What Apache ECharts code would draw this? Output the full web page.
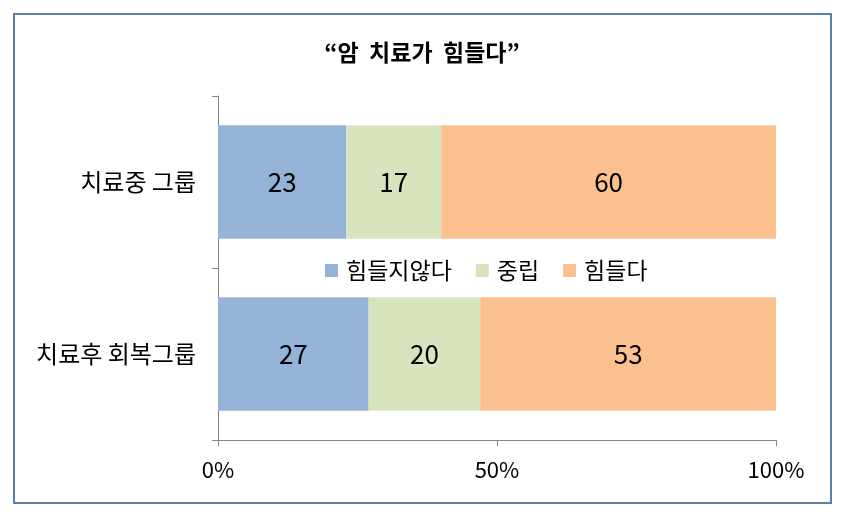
<!DOCTYPE html>
<html><head><meta charset="utf-8">
<script src="https://cdn.jsdelivr.net/npm/echarts@6/dist/echarts.min.js"></script>
<style>html,body{margin:0;padding:0;background:#fff}#c{width:844px;height:517px}</style>
</head><body><div id="c"></div>
<script>
const categories = ['치료중 그룹', '치료후 회복그룹'];
const seriesNames = ['힘들지않다', '중립', '힘들다'];
const notHard = [23, 27];
const neutral = [17, 20];
const hard = [60, 53];
const xTicks = [0, 50, 100];
const colors = ['#95b3d7', '#d7e4bd', '#fac090'];
const font = '"Noto Sans CJK KR", "Noto Sans", sans-serif';
const values = [notHard, neutral, hard];

const chart = echarts.init(document.getElementById('c'));
chart.setOption({
  animation: false,
  textStyle: { fontFamily: font },
  title: {
    text: '“암  치료가  힘들다”', left: 'center', top: 36,
    textStyle: { fontSize: 23, fontWeight: 'bold', color: '#000', fontFamily: font }
  },
  legend: {
    left: 320, top: 254, itemWidth: 13, itemHeight: 13, itemGap: 24,
    icon: 'rect',
    textStyle: { fontSize: 23, color: '#000', fontFamily: font, padding: [0, 0, 0, 3] },
    data: seriesNames
  },
  graphic: [{
    type: 'rect', shape: { x: 14, y: 14, width: 817, height: 489 },
    style: { fill: 'none', stroke: '#5a7fab', lineWidth: 2 }, silent: true, z: -1
  }],
  grid: { left: 218, right: 68, top: 96, bottom: 77 },
  xAxis: {
    type: 'value', min: 0, max: 100, interval: 50,
    axisLine: { show: true, lineStyle: { color: '#868686' } },
    axisTick: { show: true, length: 6, lineStyle: { color: '#868686' } },
    splitLine: { show: false },
    axisLabel: { formatter: v => xTicks.includes(v) ? v + '%' : '', fontSize: 22, color: '#000', margin: 19, fontFamily: font }
  },
  yAxis: {
    type: 'category', data: categories, inverse: true,
    axisLine: { show: true, lineStyle: { color: '#868686' } },
    axisTick: { show: true, length: 6, lineStyle: { color: '#868686' } },
    axisLabel: { fontSize: 24, color: '#000', margin: 22, fontFamily: font }
  },
  series: seriesNames.map((n, i) => ({
    name: n, type: 'bar', stack: 'total', data: values[i],
    barWidth: '66%',
    itemStyle: { color: colors[i] },
    label: { show: true, position: 'inside', fontSize: 26, color: '#000', fontFamily: font }
  }))
});
</script></body></html>
